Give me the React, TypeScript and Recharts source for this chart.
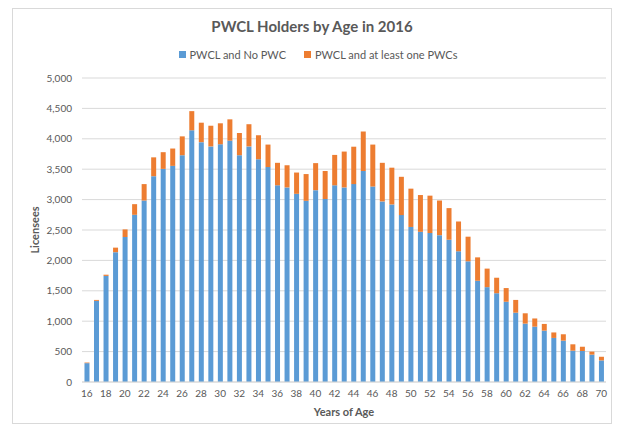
import React from "react";
import { BarChart, Bar, XAxis, YAxis, CartesianGrid } from "recharts";

const ages = ["16","17","18","19","20","21","22","23","24","25","26","27","28","29","30","31","32","33","34","35","36","37","38","39","40","41","42","43","44","45","46","47","48","49","50","51","52","53","54","55","56","57","58","59","60","61","62","63","64","65","66","67","68","69","70"];
const noPwc = [310,1335,1745,2135,2385,2750,2985,3385,3505,3555,3730,4140,3945,3875,3910,3970,3730,3875,3665,3535,3235,3200,3095,2980,3155,3010,3235,3200,3255,3470,3215,2970,2920,2745,2550,2470,2450,2415,2340,2150,1985,1665,1560,1460,1320,1140,960,910,845,725,680,515,510,450,355];
const withPwc = [10,15,20,75,125,175,270,310,275,285,310,315,320,340,345,350,365,365,395,370,370,365,350,440,445,460,500,590,615,650,690,635,605,630,630,605,615,570,520,490,405,385,305,255,225,210,170,135,110,90,105,105,70,50,60];
const yTicks = [0,500,1000,1500,2000,2500,3000,3500,4000,4500,5000];
const seriesNames = ["PWCL and No PWC", "PWCL and at least one PWCs"];
const seriesColors = ["#5B9BD5", "#ED7D31"];
const title = "PWCL Holders by Age in 2016";

const data = ages.map((a, i) => ({ age: a, noPwc: noPwc[i], withPwc: withPwc[i] }));

const FONT = "Lato, 'Open Sans', sans-serif";
const TEXT = "#595959";

export default function App() {
  return (
    <div style={{ position: "absolute", left: 0, top: 0, width: 624, height: 428, background: "#fff", fontFamily: FONT }}>
      <div style={{ position: "absolute", left: 12, top: 8, width: 600, height: 416, border: "1px solid #D9D9D9", boxSizing: "border-box" }} />
      <div style={{ position: "absolute", left: 12, width: 600, top: 17, textAlign: "center", fontSize: 15, fontWeight: 700, color: TEXT }}>{title}</div>
      <div style={{ position: "absolute", left: 12, width: 612, top: 48, display: "flex", justifyContent: "center", fontSize: 11, color: TEXT }}>
        {seriesNames.map((n, i) => (
          <div key={n} style={{ display: "flex", alignItems: "center", marginRight: i === 0 ? 18 : 0 }}>
            <span style={{ display: "inline-block", width: 7, height: 7, background: seriesColors[i], marginRight: 4 }} />
            <span>{n}</span>
          </div>
        ))}
      </div>
      <div style={{ position: "absolute", left: 0, top: 0 }}>
        <BarChart width={624} height={428} data={data} margin={{ top: 78, right: 18, bottom: 12, left: 20 }} barCategoryGap="26%">
          <CartesianGrid vertical={false} stroke="#D9D9D9" />
          <XAxis
            dataKey="age"
            interval={1}
            tickLine={false}
            axisLine={{ stroke: "#D9D9D9" }}
            height={34}
            tick={{ fill: TEXT, fontSize: 10, fontFamily: FONT }}
            label={{ value: "Years of Age", position: "insideBottom", offset: 0, style: { fill: TEXT, fontSize: 11, fontWeight: 700, fontFamily: FONT } }}
          />
          <YAxis
            width={62}
            domain={[0, 5000]}
            ticks={yTicks}
            tickLine={false}
            axisLine={false}
            tickMargin={4}
            tickFormatter={(v: number) => v.toLocaleString("en-US")}
            tick={{ fill: TEXT, fontSize: 10, fontFamily: FONT }}
            label={{ value: "Licensees", angle: -90, position: "insideLeft", offset: 15, style: { textAnchor: "middle", fill: TEXT, fontSize: 11, fontWeight: 700, fontFamily: FONT } }}
          />
          <Bar dataKey="noPwc" stackId="a" fill={seriesColors[0]} isAnimationActive={false} />
          <Bar dataKey="withPwc" stackId="a" fill={seriesColors[1]} isAnimationActive={false} />
        </BarChart>
      </div>
    </div>
  );
}
